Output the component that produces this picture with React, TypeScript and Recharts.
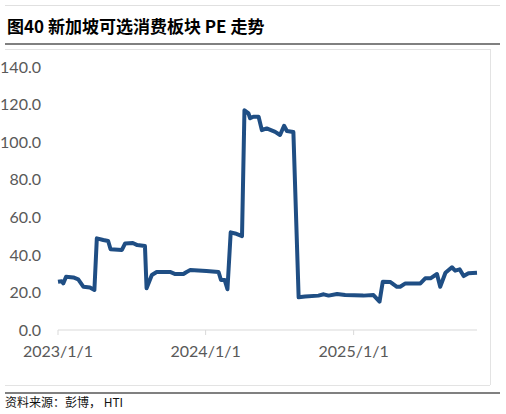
import React from 'react';
import { LineChart, Line, XAxis, YAxis } from 'recharts';

// 日期与PE值
const dates = [
  '2023-01-01', '2023-01-10', '2023-01-14', '2023-01-21', '2023-02-08', '2023-02-20',
  '2023-03-05', '2023-03-21', '2023-04-01', '2023-04-07', '2023-04-23', '2023-05-05',
  '2023-05-11', '2023-06-08', '2023-06-16', '2023-07-05', '2023-07-16', '2023-08-04',
  '2023-08-08', '2023-08-21', '2023-09-02', '2023-10-05', '2023-10-18', '2023-11-07',
  '2023-11-15', '2023-11-24', '2024-01-03', '2024-02-02', '2024-02-08', '2024-02-17',
  '2024-02-24', '2024-03-03', '2024-03-14', '2024-03-31', '2024-04-06', '2024-04-16',
  '2024-04-20', '2024-04-28', '2024-05-11', '2024-05-19', '2024-05-31', '2024-06-21',
  '2024-07-03', '2024-07-13', '2024-07-20', '2024-08-05', '2024-08-18', '2024-09-03',
  '2024-10-06', '2024-10-19', '2024-10-31', '2024-11-21', '2024-12-11', '2025-01-25',
  '2025-02-19', '2025-03-06', '2025-03-14', '2025-04-02', '2025-04-18', '2025-04-26',
  '2025-05-09', '2025-06-15', '2025-06-27', '2025-07-10', '2025-07-26', '2025-08-03',
  '2025-08-16', '2025-09-01', '2025-09-09', '2025-09-20', '2025-09-30', '2025-10-12',
  '2025-11-02',
];

const pe = [
  25.7, 26.0, 24.8, 28.4, 28.0, 27.0,
  23.0, 22.6, 21.3, 48.8, 47.9, 47.4,
  43.0, 42.6, 46.1, 46.3, 45.2, 44.7,
  22.2, 29.3, 30.9, 30.9, 29.8, 29.8,
  30.9, 31.9, 31.4, 30.9, 26.6, 26.6,
  21.7, 52.0, 51.4, 50.0, 117.0, 115.3,
  112.7, 113.5, 113.5, 106.4, 107.3, 105.5,
  103.8, 108.7, 105.9, 105.4, 17.4, 17.8,
  18.3, 19.0, 18.3, 19.2, 18.6, 18.3,
  18.6, 15.1, 25.7, 25.5, 23.0, 23.0,
  24.8, 24.8, 27.5, 27.5, 29.8, 23.0,
  30.5, 33.4, 31.6, 32.3, 28.7, 30.2,
  30.5,
];

const xTickLabels = ['2023-01-01', '2024-01-01', '2025-01-01'];
const yTicks = [0, 20, 40, 60, 80, 100, 120, 140];

const toTs = (s: string) => {
  const [y, m, d] = s.split('-').map(Number);
  return Date.UTC(y, m - 1, d);
};

const data = dates.map((d, i) => ({ t: toTs(d), pe: pe[i] }));
const xTicks = xTickLabels.map(toTs);

const fmtDate = (v: number) => {
  const d = new Date(v);
  return `${d.getUTCFullYear()}/${d.getUTCMonth() + 1}/${d.getUTCDate()}`;
};

const axisFont = { fontFamily: 'Lato, "Liberation Sans", sans-serif', fontSize: 16, fill: '#595959' };

const hline = (top: number, left: number, width: number, h: number, color: string): React.CSSProperties => ({
  position: 'absolute', top, left, width, height: h, background: color,
});

export default function App() {
  return (
    <div style={{ position: 'absolute', top: 0, left: 0, width: 506, height: 414, background: '#fff', overflow: 'hidden' }}>
      <div style={hline(5, 5, 495, 1, '#e0e0e0')} />
      <div
        style={{
          position: 'absolute', top: 14, left: 7, fontSize: 17, fontWeight: 700, lineHeight: '24px',
          fontFamily: '"Noto Sans CJK SC", sans-serif', color: '#000', whiteSpace: 'nowrap',
        }}
      >
        图40 新加坡可选消费板块 PE 走势
      </div>
      <div style={hline(43, 5, 495, 2, '#808080')} />
      <div style={hline(49, 5, 485, 1, '#e3e3e3')} />
      <div style={{ position: 'absolute', top: 49, left: 490, width: 1, height: 336, background: '#e3e3e3' }} />
      <div style={hline(385, 5, 485, 1, '#e3e3e3')} />
      <div style={hline(392, 5, 495, 2, '#808080')} />
      <div
        style={{
          position: 'absolute', top: 394, left: 5, fontSize: 12, lineHeight: '16px',
          fontFamily: '"Noto Sans CJK SC", sans-serif', color: '#111', whiteSpace: 'nowrap',
        }}
      >
        资料来源：彭博， HTI
      </div>
      <div style={{ position: 'absolute', top: 0, left: 0 }}>
        <LineChart width={506} height={414} data={data} margin={{ top: 67, right: 29, bottom: 54, left: 0 }}>
          <XAxis
            dataKey="t"
            type="number"
            domain={[toTs('2023-01-01'), toTs('2025-11-02')]}
            ticks={xTicks}
            tickFormatter={fmtDate}
            tick={axisFont}
            axisLine={{ stroke: '#d9d9d9' }}
            tickLine={{ stroke: '#d9d9d9' }}
            tickSize={5}
            tickMargin={11}
            height={30}
          />
          <YAxis
            domain={[0, 140]}
            ticks={yTicks}
            tickFormatter={(v: number) => v.toFixed(1)}
            tick={axisFont}
            axisLine={false}
            tickLine={false}
            tickSize={0}
            tickMargin={17}
            width={58}
          />
          <Line
            type="linear"
            dataKey="pe"
            stroke="#1f4e84"
            strokeWidth={4}
            dot={false}
            isAnimationActive={false}
            strokeLinejoin="round"
          />
        </LineChart>
      </div>
    </div>
  );
}
